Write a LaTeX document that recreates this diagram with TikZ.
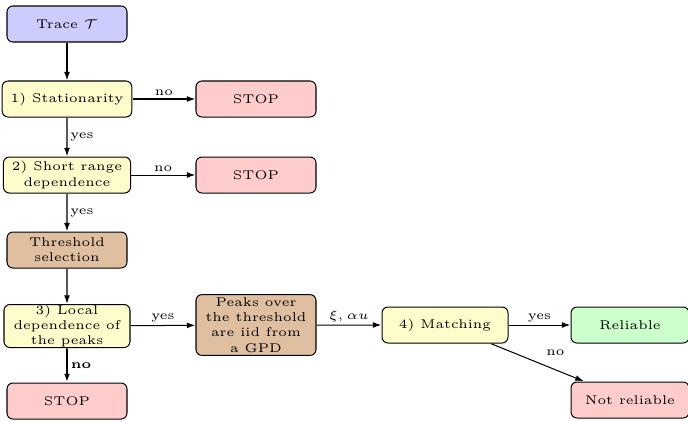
\documentclass[tikz,border=0pt]{standalone}
\usetikzlibrary{arrows.meta}
\begin{document}
\begin{tikzpicture}[x=0.5917pt,y=-0.5917pt,
  box/.style={draw, scale=1.5, rounded corners=3.5pt, minimum width=120*0.5917pt/1.5, minimum height=36*0.5917pt/1.5, align=center, font=\tiny, inner ysep=0.6pt, line width=0.6pt},
  wide/.style={box, minimum width=126*0.5917pt/1.5},
  blu/.style={fill=blue!20}, yel/.style={fill=yellow!20}, rd/.style={fill=red!20},
  grn/.style={fill=green!20}, brn/.style={fill=brown!50},
  arr/.style={-{Latex[length=5pt,width=3.5pt]}, line width=0.6pt},
  lab/.style={font=\tiny, scale=1.5, inner sep=1pt}]
\useasboundingbox (0,0) rectangle (688,421);
\node[box,blu] (trace) at (67,24) {Trace $\mathcal{T}$};
\node[wide,yel] (stat) at (67,99) {1) Stationarity};
\node[box,rd] (stop1) at (256,99) {STOP};
\node[wide,yel] (srd) at (67,175) {2) Short range\\dependence};
\node[box,rd] (stop2) at (256,175) {STOP};
\node[box,brn] (thr) at (67,250) {Threshold\\selection};
\node[wide,yel,minimum height=43*0.5917pt/1.5,inner ysep=0pt] (loc) at (67,326) {3) Local\\dependence of\\the peaks};
\node[box,rd] (stop3) at (67,401) {STOP};
\node[box,brn,inner ysep=1.2pt] (peaks) at (256,325) {Peaks over\\the threshold\\are iid from\\a GPD};
\node[wide,yel] (match) at (445,325) {4) Matching};
\node[box,grn,minimum width=118*0.5917pt/1.5] (rel) at (630,325) {Reliable};
\node[box,rd,minimum width=118*0.5917pt/1.5] (nrel) at (630,400) {Not reliable};
\draw[arr] (trace) -- (stat);
\draw[arr] (stat) -- node[lab,above]{no} (stop1);
\draw[arr] (stat) -- node[lab,right]{yes} (srd);
\draw[arr] (srd) -- node[lab,above]{no} (stop2);
\draw[arr] (srd) -- node[lab,right]{yes} (thr);
\draw[arr] (thr) -- (loc);
\draw[arr] (loc) -- node[lab,above]{yes} (peaks);
\draw[arr,line width=1.1pt] (loc) -- node[lab,right,font=\tiny\bfseries]{no} (stop3);
\draw[arr] (peaks) -- node[lab,above]{$\xi, \alpha u$} (match);
\draw[arr] (match) -- node[lab,above]{yes} (rel);
\draw[arr] (match) -- node[xshift=18*0.5917pt, yshift=10*0.5917pt, lab]{no} (nrel);
\end{tikzpicture}
\end{document}
